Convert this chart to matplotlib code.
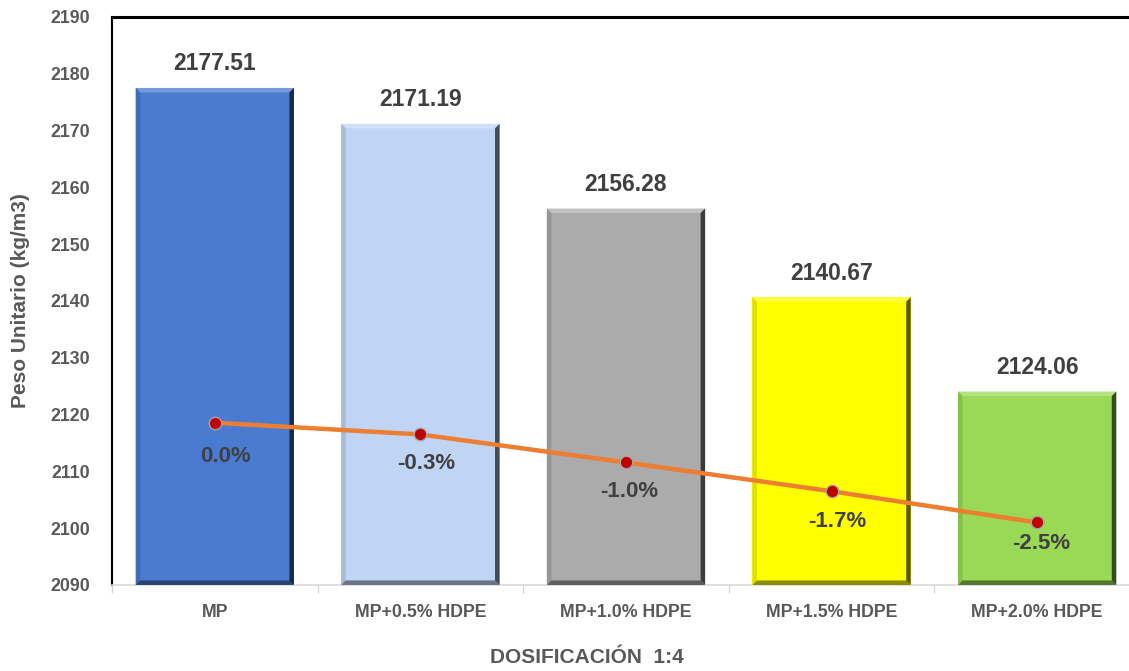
import numpy as np
import matplotlib
matplotlib.use('Agg')
import matplotlib.pyplot as plt
from matplotlib.patches import Polygon
from matplotlib.colors import to_rgb

plt.rcParams['font.family'] = ['Liberation Sans', 'DejaVu Sans']

categories = ["MP", "MP+0.5% HDPE", "MP+1.0% HDPE", "MP+1.5% HDPE", "MP+2.0% HDPE"]
peso = [2177.51, 2171.19, 2156.28, 2140.67, 2124.06]
variacion = [0.0, -0.29, -0.98, -1.69, -2.46]
bar_colors = ["#4a7bd0", "#c0d5f3", "#ababab", "#ffff00", "#99d955"]

YMIN, YMAX = 2090, 2190
TXT = '#595959'

def shade(c, f):
    r = np.array(to_rgb(c))
    return tuple(r * f) if f < 1 else tuple(r + (1 - r) * (f - 1))

fig = plt.figure(figsize=(11.29, 6.71), dpi=100)
ax = fig.add_axes([0.0992, 0.1282, 0.9105, 0.8465])
x = np.arange(len(categories))
w = 0.77
ax.bar(x, np.array(peso) - YMIN, bottom=YMIN, width=w, color=bar_colors, zorder=2)

# bevel edges
dx, dy = 0.022, 0.8
for i, (v, c) in enumerate(zip(peso, bar_colors)):
    x0, x1, y0, y1 = i - w / 2, i + w / 2, YMIN, v
    strips = [
        ([(x0, y1), (x1, y1), (x1 - dx, y1 - dy), (x0 + dx, y1 - dy)], shade(c, 1.25)),
        ([(x0, y0), (x0, y1), (x0 + dx, y1 - dy), (x0 + dx, y0 + dy)], shade(c, 0.88)),
        ([(x0, y0), (x1, y0), (x1 - dx, y0 + dy), (x0 + dx, y0 + dy)], shade(c, 0.55)),
        ([(x1, y1), (x1, y0), (x1 - dx, y0 + dy), (x1 - dx, y1 - dy)], shade(c, 0.35)),
    ]
    for pts, col in strips:
        ax.add_patch(Polygon(pts, closed=True, facecolor=col, edgecolor='none', zorder=3))
    ax.annotate(f"{v:.2f}", (i, v), xytext=(0, 9), textcoords='offset points',
                ha='center', va='bottom', fontsize=16.5, fontweight='bold', color='#404040')

ax.set_xlim(-0.5, len(categories) - 0.5)
ax.set_ylim(YMIN, YMAX)
ax.set_yticks(np.arange(YMIN, YMAX + 1, 10))
ax.set_xticks(x)
ax.set_xticklabels(categories, fontsize=12.8, fontweight='bold', color=TXT)
ax.set_xticks(np.arange(-0.5, len(categories), 1), minor=True)
ax.tick_params(axis='x', which='major', length=0, pad=14)
ax.tick_params(axis='x', which='minor', length=6, color='#d9d9d9', width=1)
ax.tick_params(axis='y', length=0, pad=16, labelsize=12.8, labelcolor=TXT)
for t in ax.get_yticklabels():
    t.set_fontweight('bold')

ax.spines['left'].set_color('black'); ax.spines['left'].set_linewidth(1.5)
ax.spines['top'].set_color('black'); ax.spines['top'].set_linewidth(2.2)
ax.spines['bottom'].set_color('#d9d9d9'); ax.spines['bottom'].set_linewidth(1.2)
ax.spines['right'].set_visible(False)

ax.set_ylabel("Peso Unitario (kg/m3)", fontsize=15, fontweight='bold', color=TXT)
ax.yaxis.set_label_coords(-0.08, 0.5)
ax.set_xlabel("DOSIFICACIÓN  1:4", fontsize=15, fontweight='bold', color=TXT, va='center')
ax.xaxis.set_label_coords(0.462, -0.127)

ax2 = ax.twinx()
ax2.set_ylim(-4, 10)
ax2.axis('off')
ax2.plot(x, variacion, '-', color='#ed7d31', lw=3.2, zorder=4)
ax2.plot(x, variacion, 'o', color='#c00000', markersize=9, markeredgecolor='#a5a5a5',
         markeredgewidth=1, zorder=5)
offs = [(8, -24), (4, -21), (2, -21), (4, -22), (3, -15)]
for i, (p, o) in enumerate(zip(variacion, offs)):
    ax2.annotate(f"{p:.1f}%", (i, p), xytext=o, textcoords='offset points',
                 ha='center', va='center', fontsize=16, fontweight='bold', color='#404040')

fig.savefig('out.png', dpi=100)
